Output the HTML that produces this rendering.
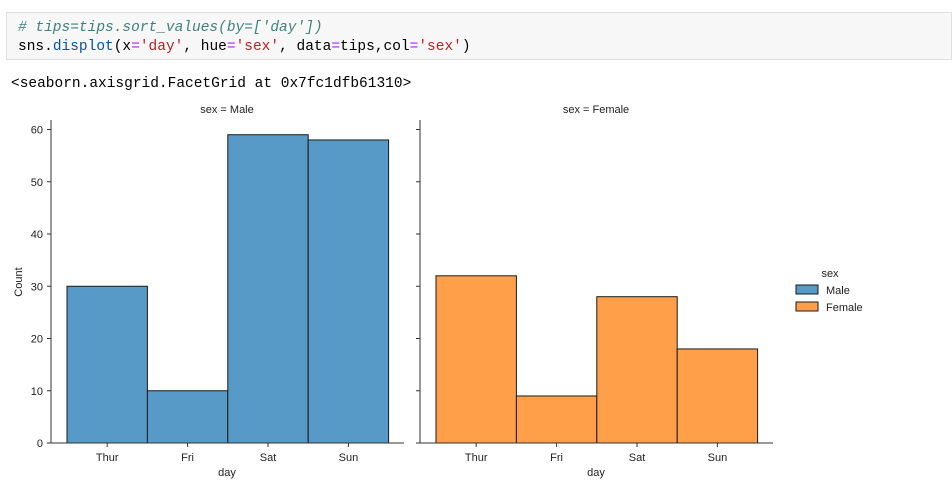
<!DOCTYPE html>
<html><head><meta charset="utf-8"><style>
body{margin:0;width:952px;height:487px;background:#fff;overflow:hidden;position:relative;font-family:"Liberation Sans",sans-serif}
.cell{position:absolute;left:6px;top:12px;width:946px;height:48px;background:#f7f7f7;border:1px solid #e0e0e0;box-sizing:border-box}
.code{position:absolute;left:11px;font-family:"Liberation Mono",monospace;font-size:14.5px;white-space:pre;color:#000}
.out{position:absolute;left:11px;top:76px;font-family:"Liberation Mono",monospace;font-size:14.5px;white-space:pre}
svg{position:absolute;left:0;top:0}
</style></head><body>
<div class="cell">
<div class="code" style="top:7px;color:#408080;font-style:italic"># tips=tips.sort_values(by=[<span>'day'</span>])</div>
<div class="code" style="top:26px">sns.<span style="color:#0055aa">displot</span>(x<span style="color:#aa22ff">=</span><span style="color:#ba2121">'day'</span>, hue<span style="color:#aa22ff">=</span><span style="color:#ba2121">'sex'</span>, data<span style="color:#aa22ff">=</span>tips,col<span style="color:#aa22ff">=</span><span style="color:#ba2121">'sex'</span>)</div>
</div>
<div class="out">&lt;seaborn.axisgrid.FacetGrid at 0x7fc1dfb61310&gt;</div>
<svg id="chart" width="952" height="487"></svg>
<script>
const days=["Thur","Fri","Sat","Sun"];
const maleCounts=[30,10,59,58];
const femaleCounts=[32,9,28,18];
const yTicks=[0,10,20,30,40,50,60];
const svg=document.getElementById('chart');
const NS='http://www.w3.org/2000/svg';
function mk(t,a,txt){const e=document.createElementNS(NS,t);for(const k in a)e.setAttribute(k,a[k]);if(txt!==undefined)e.textContent=txt;svg.appendChild(e);return e;}
const y0=443,pxPer=5.225;
function yS(v){return y0-v*pxPer;}
function panel(ax,vals,fill,title,showY,key){
  const binW=80.4,start=ax+16;
  const xS=i=>start+i*binW;
  vals.forEach((v,i)=>{
    const r=mk('rect',{x:xS(i),y:yS(v),width:binW,height:v*pxPer,fill:fill,stroke:'#1a1a1a','stroke-width':1});
    
    
  });
  mk('line',{x1:ax,y1:120,x2:ax,y2:y0,stroke:'#333','stroke-width':1});
  mk('line',{x1:ax,y1:y0,x2:ax+353,y2:y0,stroke:'#333','stroke-width':1});
  yTicks.forEach(t=>{
    mk('line',{x1:ax-4,y1:yS(t),x2:ax,y2:yS(t),stroke:'#333'});
    if(showY){const l=mk('text',{x:ax-8,y:yS(t)+4,'text-anchor':'end','font-size':11,fill:'#222'},t);
      
      }
  });
  days.forEach((d,i)=>{
    const cx=xS(i)+binW/2;
    mk('line',{x1:cx,y1:y0,x2:cx,y2:y0+4,stroke:'#333'});
    const l=mk('text',{x:cx,y:y0+18,'text-anchor':'middle','font-size':11,fill:'#222'},d);
    
    
  });
  const xt=mk('text',{x:ax+176,y:476,'text-anchor':'middle','font-size':11,fill:'#222'},'day');
  
  
  const tt=mk('text',{x:ax+176,y:113,'text-anchor':'middle','font-size':11,fill:'#222'},title);
  
  
}
panel(51,maleCounts,'#5799c7','sex = Male',true,'male');
panel(420,femaleCounts,'#ff9f4a','sex = Female',false,'female');
const yt=mk('text',{x:22,y:282,'text-anchor':'middle','font-size':11,fill:'#222',transform:'rotate(-90 22 282)'},'Count');


const lt=mk('text',{x:830,y:277,'text-anchor':'middle','font-size':11,fill:'#222'},'sex');


[['Male','#5799c7',290],['Female','#ff9f4a',307]].forEach(([n,c,y])=>{
  const r=mk('rect',{x:796,y:y-5,width:22,height:9,fill:c,stroke:'#1a1a1a'});
  
  
  const t=mk('text',{x:826,y:y+4,'font-size':11,fill:'#222'},n);
  
  
});
</script>
</body></html>
